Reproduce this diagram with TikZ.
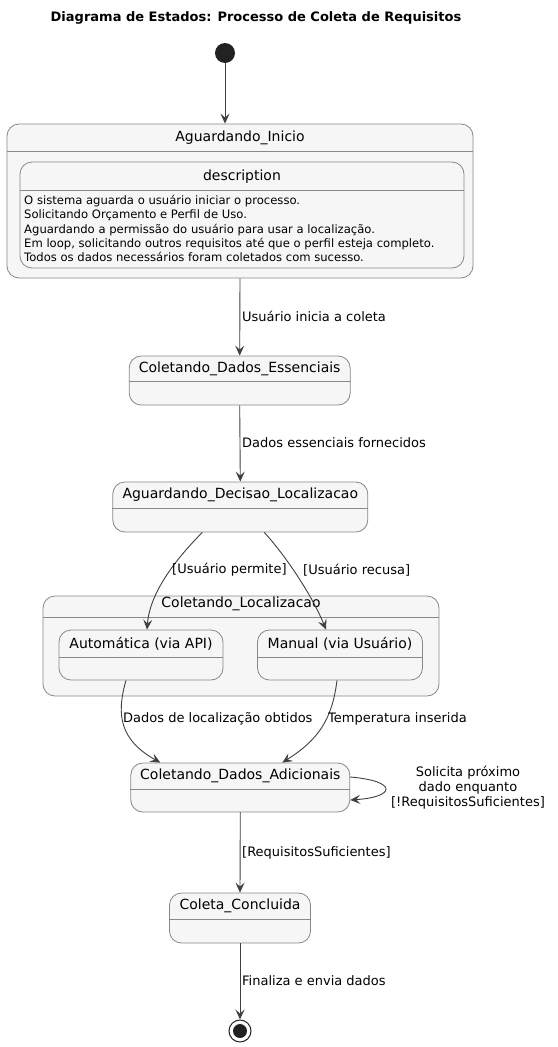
\documentclass[tikz,border=0pt]{standalone}
\usepackage{fontspec}
\setmainfont{DejaVu Sans}
\usetikzlibrary{arrows.meta}

\definecolor{statefill}{HTML}{F6F6F6}
\definecolor{stateline}{HTML}{888888}
\definecolor{arrowcol}{HTML}{404040}
\definecolor{dotcol}{HTML}{222222}

\tikzset{
  box/.style={draw=stateline, fill=statefill, rounded corners=12pt, line width=0.8pt, inner sep=0pt},
  statename/.style={font=\fontsize{14}{16}\selectfont, inner sep=0pt},
  lbl/.style={font=\fontsize{13}{15}\selectfont, inner sep=0pt, anchor=west},
  trans/.style={draw=arrowcol, line width=0.9pt, -{Stealth[length=10pt,width=9pt,inset=4pt]}},
}

% state box: id, centre x, centre y, width, height, header line y, title
\newcommand\statebox[7]{%
  \node[box, minimum width=#4pt, minimum height=#5pt] (#1) at (#2,#3) {};
  \draw[stateline, line width=0.8pt] (#1.west |- 0,#6) -- (#1.east |- 0,#6);
  \node[statename] (#1-t) at (#2,#6-13) {#7};
}

\begin{document}
\begin{tikzpicture}[x=1pt, y=-1pt]
\useasboundingbox (0,0) rectangle (557,1047);

\node[font=\bfseries\fontsize{13}{15}\selectfont, inner sep=0pt] (title) at (256,18)
  {Diagrama de Estados: Processo de Coleta de Requisitos};

% initial pseudo-state
\node[circle, fill=dotcol, minimum size=20pt, inner sep=0pt] (init) at (225,53) {};

% composite state with its description
\statebox{ai}{240}{201}{466}{154}{151}{Aguardando\_Inicio}
\statebox{desc}{242}{215}{444}{106}{190}{description}
\node[font=\fontsize{11.6}{14.3}\selectfont, align=left, anchor=north west, inner sep=0pt] (desc-body) at (24,195)
  {O sistema aguarda o usuário iniciar o processo.\\
   Solicitando Orçamento e Perfil de Uso.\\
   Aguardando a permissão do usuário para usar a localização.\\
   Em loop, solicitando outros requisitos até que o perfil esteja completo.\\
   Todos os dados necessários foram coletados com sucesso.};

\statebox{cde}{239.7}{380.5}{221}{49}{381.5}{Coletando\_Dados\_Essenciais}
\statebox{adl}{240.3}{507}{255}{50}{508}{Aguardando\_Decisao\_Localizacao}

% location sub-states
\statebox{cl}{241}{646}{396}{100}{617}{Coletando\_Localizacao}
\statebox{auto}{141}{655}{164}{50}{657}{Automática (via API)}
\statebox{man}{340}{655}{165}{50}{657}{Manual (via Usuário)}

\statebox{cda}{240.3}{787.5}{219}{49}{789}{Coletando\_Dados\_Adicionais}
\statebox{cc}{240}{918}{141}{50}{919}{Coleta\_Concluida}

% final pseudo-state
\node[circle, draw=dotcol, line width=1pt, fill=white, minimum size=22pt, inner sep=0pt] (fin) at (240,1031) {};
\node[circle, fill=dotcol, minimum size=14pt, inner sep=0pt] (fin-in) at (fin.center) {};

% transitions
\draw[trans] (init) -- (init |- ai.north);
\draw[trans] (ai.south) -- (cde.north);
\node[lbl] (l1) at (242,316) {Usuário inicia a coleta};
\draw[trans] (cde.south) -- (adl.north);
\node[lbl] (l2) at (242,443) {Dados essenciais fornecidos};

\draw[trans] ([xshift=-38pt]adl.south) .. controls (180,555) and (150,590) .. ([xshift=6pt]auto.north);
\node[lbl] (l3) at (172,570) {[Usuário permite]};
\draw[trans] ([xshift=24pt]adl.south) .. controls (285,555) and (312,595) .. ([xshift=-14pt]man.north);
\node[lbl] (l4) at (303,570) {[Usuário recusa]};

\draw[trans] ([xshift=-15pt]auto.south) .. controls (116,715) and (120,740) .. ([xshift=-80pt]cda.north);
\node[lbl] (l5) at (123,719) {Dados de localização obtidos};
\draw[trans] ([xshift=-3pt]man.south) .. controls (332,720) and (318,740) .. ([xshift=42pt]cda.north);
\node[lbl] (l6) at (328,719) {Temperatura inserida};

\draw[trans] ([yshift=10.5pt]cda.east) .. controls (398,781) and (396,797) .. ([yshift=-12.5pt]cda.east);
\node[font=\fontsize{13}{15}\selectfont, align=center, inner sep=0pt] (l7) at (468,788)
  {Solicita próximo\\dado enquanto\\{}[!RequisitosSuficientes]};

\draw[trans] (cda.south) -- (cc.north);
\node[lbl] (l8) at (242,853) {[RequisitosSuficientes]};
\draw[trans] (cc.south) -- (fin.north);
\node[lbl] (l9) at (242,981) {Finaliza e envia dados};
\end{tikzpicture}
\end{document}
